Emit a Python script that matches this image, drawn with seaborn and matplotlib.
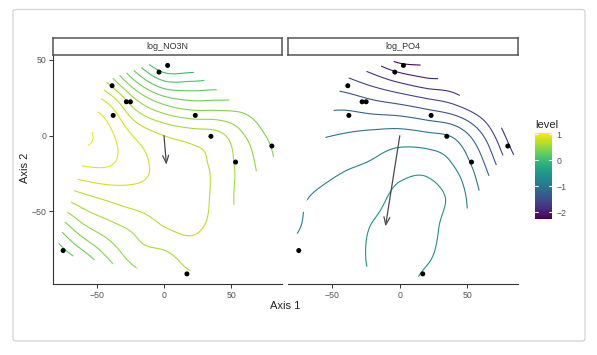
import numpy as np
import pandas as pd
import matplotlib
matplotlib.use("Agg")
import matplotlib.pyplot as plt
import seaborn as sns
from matplotlib.patches import FancyBboxPatch
from matplotlib.colors import Normalize
import matplotlib as mpl

# ---------------- data ----------------
site_x = [-74.8, 17.0, -38.5, -37.7, -27.9, -24.9, -3.7, 2.7, 23.2, 34.8, 53.1, 80.0]
site_y = [-75.8, -91.2, 33.0, 13.4, 22.4, 22.4, 42.0, 46.4, 13.4, -0.4, -17.4, -6.8]

facets = ["log_NO3N", "log_PO4"]
arrow_x = [1.8, -10.6]
arrow_y = [-19.1, -59.8]

# fitted surface sampled on a coarse grid (columns = grid_x, rows = grid_y)
grid_x = [-80, -60, -40, -20, 0, 20, 40, 60, 80]
grid_y = [60, 40, 20, 0, -20, -40, -60, -80, -100]

no3n_surface = [
    [0.75, 0.60, 0.30, -0.10, -0.30, -0.35, -0.30, -0.25, -0.30],
    [0.80, 0.75, 0.50, 0.22, 0.03, 0.03, 0.05, 0.00, -0.10],
    [0.85, 0.90, 0.80, 0.55, 0.41, 0.35, 0.35, 0.34, 0.24],
    [0.92, 1.02, 0.92, 0.78, 0.70, 0.66, 0.63, 0.50, 0.37],
    [0.85, 0.90, 0.90, 0.83, 0.77, 0.74, 0.67, 0.55, 0.42],
    [0.60, 0.68, 0.73, 0.76, 0.76, 0.75, 0.67, 0.55, 0.45],
    [0.30, 0.48, 0.57, 0.63, 0.70, 0.72, 0.66, 0.55, 0.45],
    [0.10, 0.25, 0.42, 0.55, 0.57, 0.64, 0.60, 0.50, 0.40],
    [-0.10, 0.00, 0.25, 0.40, 0.45, 0.55, 0.50, 0.45, 0.35],
]
po4_surface = [
    [-1.70, -1.80, -2.00, -2.30, -2.60, -2.50, -2.60, -2.40, -2.50],
    [-1.45, -1.50, -1.62, -1.78, -1.95, -2.05, -2.10, -2.40, -2.50],
    [-1.25, -1.25, -1.25, -1.32, -1.38, -1.47, -1.58, -1.80, -2.10],
    [-1.05, -1.02, -0.98, -0.94, -0.91, -0.95, -1.03, -1.36, -1.85],
    [-0.92, -0.88, -0.82, -0.77, -0.68, -0.66, -0.80, -1.13, -1.60],
    [-0.84, -0.78, -0.72, -0.67, -0.55, -0.54, -0.66, -1.00, -1.30],
    [-0.82, -0.76, -0.70, -0.59, -0.53, -0.54, -0.70, -0.90, -1.20],
    [-0.78, -0.74, -0.70, -0.57, -0.53, -0.58, -0.70, -0.85, -1.10],
    [-0.78, -0.75, -0.72, -0.60, -0.55, -0.66, -0.70, -0.85, -1.00],
]
no3n_levels = [0.0, 0.1, 0.2, 0.3, 0.4, 0.5, 0.6, 0.7, 0.8, 0.9, 1.0]
po4_levels = [-2.2, -2.0, -1.8, -1.6, -1.4, -1.2, -1.0, -0.8, -0.6]
level_limits = (-2.26, 1.03)
level_ticks = [1, 0, -1, -2]

# ---------------- helpers ----------------
def cr_matrix(nodes, targets):
    nodes = np.asarray(nodes, float)
    n = len(nodes)
    h = nodes[1] - nodes[0]
    M = np.zeros((len(targets), n))
    for k, t in enumerate(targets):
        s = (t - nodes[0]) / h
        i = int(np.clip(np.floor(s), 0, n - 2))
        u = s - i
        w = [(-u**3 + 2*u**2 - u) / 2, (3*u**3 - 5*u**2 + 2) / 2,
             (-3*u**3 + 4*u**2 + u) / 2, (u**3 - u**2) / 2]
        for j, wj in zip(range(i - 1, i + 3), w):
            if j < 0:
                M[k, 0] += 2 * wj; M[k, 1] -= wj
            elif j > n - 1:
                M[k, n - 1] += 2 * wj; M[k, n - 2] -= wj
            else:
                M[k, j] += wj
    return M

def convex_hull(pts):
    pts = sorted(set(map(tuple, pts)))
    def cross(o, a, b):
        return (a[0]-o[0])*(b[1]-o[1]) - (a[1]-o[1])*(b[0]-o[0])
    lower, upper = [], []
    for p in pts:
        while len(lower) >= 2 and cross(lower[-2], lower[-1], p) <= 0:
            lower.pop()
        lower.append(p)
    for p in reversed(pts):
        while len(upper) >= 2 and cross(upper[-2], upper[-1], p) <= 0:
            upper.pop()
        upper.append(p)
    return np.array(lower[:-1] + upper[:-1])

def hull_mask(X, Y, hull, margins):
    m = len(hull)
    inside = np.ones_like(X, dtype=bool)
    near = np.zeros_like(X, dtype=bool)
    for a in range(m):
        p, q = hull[a], hull[(a + 1) % m]
        d = q - p
        L2 = d @ d
        nrm = np.array([d[1], -d[0]]) / np.sqrt(L2)
        inside &= (X - p[0]) * nrm[0] + (Y - p[1]) * nrm[1] <= 0
        t = np.clip(((X - p[0]) * d[0] + (Y - p[1]) * d[1]) / L2, 0, 1)
        dist = np.hypot(X - (p[0] + t * d[0]), Y - (p[1] + t * d[1]))
        near |= dist <= margins[a]
    return inside | near

# ---------------- style ----------------
sns.set_theme(style="ticks")
plt.rcParams["font.family"] = ["Liberation Sans", "DejaVu Sans"]

W, H = 597, 355
fig = plt.figure(figsize=(W / 100, H / 100), dpi=100)
fig.patch.set_facecolor("white")
fig.patches.append(FancyBboxPatch((13 / W, 1 - 341 / H), (585 - 13) / W, (341 - 9.5) / H,
                                  boxstyle="round,pad=0,rounding_size=0.006",
                                  transform=fig.transFigure, fc="white", ec="#d4d4d4",
                                  lw=0.9, zorder=-10))

sx, sy = np.array(site_x), np.array(site_y)
xr = sx.max() - sx.min(); yr = sy.max() - sy.min()
xlim = (sx.min() - 0.05 * xr, sx.max() + 0.05 * xr)
ylim = (sy.min() - 0.05 * yr, sy.max() + 0.05 * yr)

xf = np.arange(-82, 88.01, 0.5)
yf = np.arange(-98, 54.01, 0.5)
Xf, Yf = np.meshgrid(xf, yf)
Mx = cr_matrix(grid_x, xf)
yn = np.array(grid_y)[::-1]
My = cr_matrix(yn, yf)
hull = convex_hull(np.column_stack([sx, sy]))
# hull edges in order: bottom, lower-right, top-right, top-left, left
inside = hull_mask(Xf, Yf, hull, [2.5, 0.8, 7.5, 5.0, 5.0])

norm = Normalize(*level_limits)
panel_px = [(52.7, 282.3), (288.3, 518.3)]
top_px, bot_px, strip_top = 55.0, 284.3, 38.3
surfaces = [no3n_surface, po4_surface]
levels = [no3n_levels, po4_levels]
sites = pd.DataFrame({"x": site_x, "y": site_y})

for k, name in enumerate(facets):
    x0, x1 = panel_px[k]
    ax = fig.add_axes([x0 / W, 1 - bot_px / H, (x1 - x0) / W, (bot_px - top_px) / H])
    zg = np.array(surfaces[k], float)[::-1]
    Zf = My @ zg @ Mx.T
    Zm = np.ma.masked_where(~inside, Zf)
    ax.contour(Xf, Yf, Zm, levels=levels[k], cmap="viridis", norm=norm,
               linewidths=0.8, zorder=2)
    sns.scatterplot(data=sites, x="x", y="y", ax=ax, color="black", s=13,
                    edgecolor="none", linewidth=0, zorder=4, legend=False)
    ax.annotate("", xy=(arrow_x[k], arrow_y[k]), xytext=(0, 0),
                arrowprops=dict(arrowstyle="->,head_length=0.45,head_width=0.18",
                                color="#4a4a4a", lw=0.9, shrinkA=0, shrinkB=0),
                zorder=3)
    ax.set_xlim(xlim); ax.set_ylim(ylim)
    ax.set_xticks([-50, 0, 50])
    ax.set_xlabel(""); ax.set_ylabel("")
    ax.tick_params(axis="both", labelsize=6.3, labelcolor="#555555", color="#333333",
                   length=2.8, width=0.7, pad=2)
    for s in ["top", "right"]:
        ax.spines[s].set_visible(False)
    ax.spines["bottom"].set_color("#333333"); ax.spines["bottom"].set_linewidth(0.8)
    if k == 0:
        ax.set_yticks([-50, 0, 50])
        ax.spines["left"].set_color("#333333"); ax.spines["left"].set_linewidth(0.8)
    else:
        ax.spines["left"].set_visible(False)
        ax.set_yticks([])
    # strip
    sax = fig.add_axes([x0 / W, 1 - top_px / H, (x1 - x0) / W, (top_px - strip_top) / H])
    sax.set_xticks([]); sax.set_yticks([])
    sax.set_facecolor("white")
    for s in sax.spines.values():
        s.set_color("#555555"); s.set_linewidth(1.1); s.set_visible(True)
    sax.text(0.5, 0.5, name, ha="center", va="center", fontsize=6.5, color="#333333",
             transform=sax.transAxes)

fig.text(285 / W, 1 - 306 / H, "Axis 1", ha="center", va="center", fontsize=8, color="#222222")
fig.text(25 / W, 1 - 168 / H, "Axis 2", ha="center", va="center", fontsize=8,
         color="#222222", rotation=90)

# colour bar
cax = fig.add_axes([535 / W, 1 - 219 / H, 17 / W, (219 - 133.3) / H])
cb = mpl.colorbar.ColorbarBase(cax, cmap="viridis", norm=norm, orientation="vertical")
cb.outline.set_visible(False)
cb.set_ticks(level_ticks)
cax.tick_params(length=0, labelsize=6.3, labelcolor="#555555", pad=3)
for t in level_ticks:
    cax.plot([0, 0.2], [t, t], color="white", lw=0.7, transform=cax.get_yaxis_transform())
    cax.plot([0.8, 1.0], [t, t], color="white", lw=0.7, transform=cax.get_yaxis_transform())
fig.text(535 / W, 1 - 125 / H, "level", ha="left", va="center", fontsize=8, color="#222222")

fig.savefig("out.png", dpi=100, facecolor="white")
